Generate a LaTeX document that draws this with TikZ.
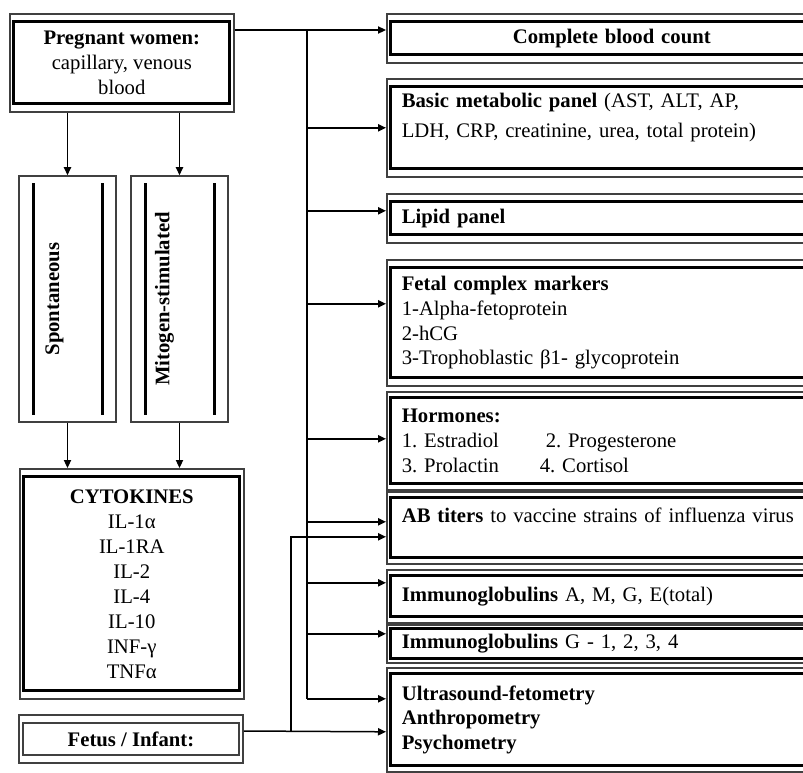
\documentclass[tikz,border=0pt]{standalone}
\usepackage{fontspec}
\setmainfont{Liberation Serif}
\usepackage{graphicx}
\usepackage{tikz}
\usetikzlibrary{arrows.meta}
\usetikzlibrary{calc}
\tikzstyle{arrhead}=[>/.tip={Triangle[length=4pt,width=3.6pt]}]
\tikzstyle{con}=[line width=.75pt,arrhead]
\tikzstyle{arr}=[con,->]
\tikzset{frame/.style={draw=black!75,line width=.8pt,inner sep=0pt,
  path picture={\draw[black,line width=1.5pt]
    ([shift={(2pt,-#1)}]path picture bounding box.north west) rectangle
    ([shift={(-2pt,#1)}]path picture bounding box.south east);}},
  frame/.default=4pt}
\tikzstyle{dframe}=[draw=black!75,line width=.8pt,inner sep=0pt,
  path picture={\draw[black!75,line width=.8pt]
    ([shift={(2pt,-4pt)}]path picture bounding box.north west) rectangle
    ([shift={(-2pt,4pt)}]path picture bounding box.south east);}]
\tikzstyle{strip}=[draw=black!75,line width=.8pt,inner sep=0pt,
  minimum width=48.5pt,minimum height=123pt,
  path picture={\draw[black,line width=1.5pt]
    ([shift={(7pt,-3.5pt)}]path picture bounding box.north west) --
    ([shift={(7pt,3.5pt)}]path picture bounding box.south west)
    ([shift={(-7pt,-3.5pt)}]path picture bounding box.north east) --
    ([shift={(-7pt,3.5pt)}]path picture bounding box.south east);}]
\tikzstyle{panel}=[frame,anchor=north west,minimum width=225pt,
  text width=210pt,inner xsep=7.5pt,align=left]

\begin{document}
\begin{tikzpicture}[x=.5pt,y=-.5pt,font=\fontsize{10.35}{12.3}\selectfont\frenchspacing]
	\useasboundingbox (0,0) rectangle (803,772);
	\clip (0,0) rectangle (803,772);
	% left column
	\node[frame,anchor=north west,minimum width=112pt,minimum height=49pt,align=center] (pw) at (9,13)
	  {\textbf{Pregnant women:}\\capillary, venous\\blood};
	\node[strip] (sp)  at (67.5,299)  {\rotatebox{90}{\textbf{Spontaneous}}\hspace*{13pt}};
	\node[strip] (mit) at (179.5,299) {\rotatebox{90}{\textbf{Mitogen-stimulated}}\hspace*{15pt}};
	\node[frame,anchor=north west,minimum width=112pt,minimum height=115pt,align=center,
	  font=\fontsize{10.35}{12.5}\selectfont] (cyt) at (19,468)
	  {\textbf{CYTOKINES}\\IL-1α\\IL-1RA\\IL-2\\IL-4\\IL-10\\INF-γ\\TNFα};
	\node[dframe,minimum width=112pt,minimum height=24pt] (fi) at (131,739) {\textbf{Fetus / Infant:}};
	% right column
	\node[panel,minimum height=24.5pt,text width=200pt,align=center] (cbc) at (386,13) {\textbf{Complete blood count}};
	\node[panel,minimum height=49pt] (bmp) at (386,78)
	  {\textbf{Basic metabolic panel} (AST, ALT, AP,\\[3pt]LDH, CRP, creatinine, urea, total protein)\\\mbox{}};
	\node[panel,minimum height=24.5pt] (lip) at (386,193) {\textbf{Lipid panel}};
	\node[panel,minimum height=63pt] (fet) at (386,259)
	  {\textbf{Fetal complex markers}\\1-Alpha-fetoprotein\\2-hCG\\3-Trophoblastic β1- glycoprotein};
	\node[panel,minimum height=49pt,frame=3pt] (hor) at (386,391)
	  {\textbf{Hormones:}\\\makebox[72pt][l]{1. Estradiol}2. Progesterone\\\makebox[69pt][l]{3. Prolactin}4. Cortisol};
	\node[panel,minimum height=36pt,frame=3pt] (abt) at (386,491)
	  {\textbf{AB titers} to vaccine strains of influenza virus\\\mbox{}};
	\node[panel,minimum height=26.5pt,frame=3pt] (iga) at (386,569) {\textbf{Immunoglobulins} A, M, G, E(total)};
	\node[panel,minimum height=19pt,frame=2pt] (igg) at (386,624) {\textbf{Immunoglobulins} G - 1, 2, 3, 4};
	\node[panel,minimum height=52pt,frame=3pt] (usd) at (386,667)
	  {\textbf{Ultrasound-fetometry}\\\textbf{Anthropometry}\\\textbf{Psychometry}};
	% connectors
	\draw[arr] (pw.south -| sp.north) -- (sp.north);
	\draw[arr] (pw.south -| mit.north) -- (mit.north);
	\draw[arr] (sp.south) -- (sp.south |- cyt.north);
	\draw[arr] (mit.south) -- (mit.south |- cyt.north);
	\coordinate (tr) at (307,30);
	\draw[arr] (pw.east |- tr) -- (cbc.west |- tr);
	\draw[con] (tr) -- ([yshift=10.5pt]tr |- usd.west);
	\foreach \b/\d in {bmp/0pt,lip/3.75pt,fet/9.5pt,hor/1pt,abt/3pt,iga/6.75pt,igg/5pt,usd/10.5pt}
	  \draw[arr] ([yshift=\d]tr |- \b.west) -- ([yshift=\d]\b.west);
	\coordinate (fj) at (291,731);
	\draw[arr] ([yshift=4pt]fi.east) -- ([yshift=-6pt]usd.west);
	\draw[arr] (fj) |- ([yshift=-4.5pt]abt.west);
\end{tikzpicture}
\end{document}
